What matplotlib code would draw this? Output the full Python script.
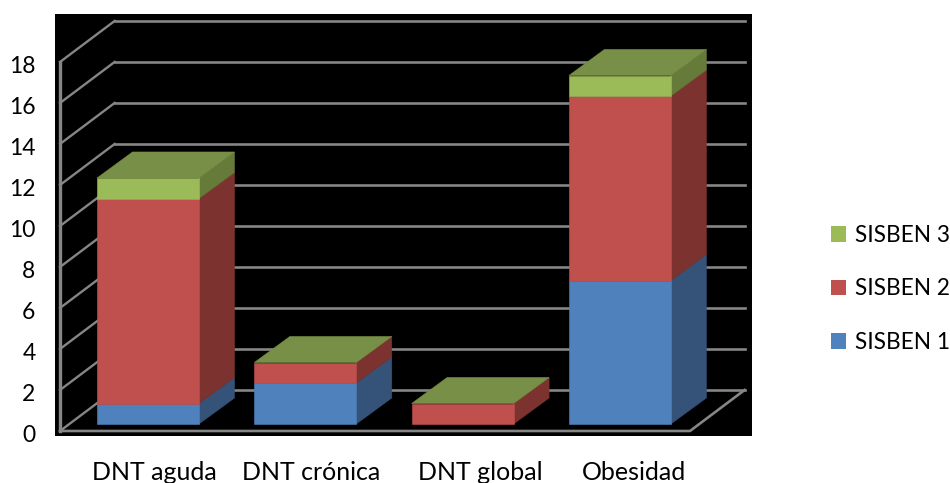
import matplotlib
matplotlib.use("Agg")
import matplotlib.pyplot as plt
from matplotlib.patches import Polygon, Patch
from matplotlib.transforms import ScaledTranslation

categories = ["DNT aguda", "DNT crónica", "DNT global", "Obesidad"]
sisben1 = [1, 2, 0, 7]
sisben2 = [10, 1, 1, 9]
sisben3 = [1, 0, 0, 1]
y_ticks = [0, 2, 4, 6, 8, 10, 12, 14, 16, 18]

names = ["SISBEN 1", "SISBEN 2", "SISBEN 3"]
front = ["#4F81BD", "#C0504D", "#9BBB59"]
side = ["#355279", "#7C3330", "#667A39"]
top = ["#4A6C96", "#964542", "#778F46"]
grid_col = "#868686"

bar_w = 0.648
bar_dx, bar_dy = 0.226, 1.27
wall_dx, wall_dy = 0.347, 2.0
floor_y = -0.34
left_x, right_x = -0.559, 3.446

plt.rcParams["font.family"] = ["Lato", "DejaVu Sans"]
fig = plt.figure(figsize=(9.5, 4.83), dpi=100)
ax = fig.add_axes([55 / 950, 1 - 435.5 / 483, 697 / 950, 421.5 / 483])
ax.set_facecolor("black")
ax.set_xlim(-0.591, 3.84)
ax.set_ylim(-0.56, 20)
for s in ax.spines.values():
    s.set_visible(False)

# back wall lines and the slanted lines on the left wall
for v in y_ticks:
    y = floor_y + v
    ax.plot([left_x, left_x + wall_dx], [y, y + wall_dy], color=grid_col, lw=1.7, zorder=1)
    ax.plot([left_x + wall_dx, right_x + wall_dx], [y + wall_dy, y + wall_dy], color=grid_col, lw=1.9, zorder=1)

# floor and vertical axis
ax.plot([left_x, right_x, right_x + wall_dx], [floor_y, floor_y, floor_y + wall_dy], color=grid_col, lw=1.9, zorder=1)
ax.plot([left_x, left_x], [floor_y, floor_y + 18], color=grid_col, lw=2.4, zorder=1)

# stacked boxes
z = 2
for i in range(len(categories)):
    x0 = i - bar_w / 2
    x1 = i + bar_w / 2
    base = 0
    series = [sisben1[i], sisben2[i], sisben3[i]]
    for val, f, sd in zip(series, front, side):
        if val > 0:
            ax.add_patch(Polygon([(x1, base), (x1 + bar_dx, base + bar_dy), (x1 + bar_dx, base + val + bar_dy), (x1, base + val)],
                                 facecolor=sd, edgecolor=sd, lw=0.4, zorder=z))
            ax.add_patch(Polygon([(x0, base), (x1, base), (x1, base + val), (x0, base + val)],
                                 facecolor=f, edgecolor=f, lw=0.4, zorder=z))
        base += val
    # the last series closes the box even when its height is zero
    ax.add_patch(Polygon([(x0, base), (x1, base), (x1 + bar_dx, base + bar_dy), (x0 + bar_dx, base + bar_dy)],
                         facecolor=top[2], edgecolor=top[2], lw=0.4, zorder=z))

ax.set_yticks([floor_y + v for v in y_ticks])
ax.set_yticklabels([str(v) for v in y_ticks], fontsize=16.5, color="black")
ax.set_xticks([0.04, 1.04, 2.11, 3.09])
ax.set_xticklabels(categories, fontsize=18, color="black")
ax.tick_params(axis="y", length=0, pad=14)
ax.tick_params(axis="x", length=0, pad=18)

# nudge the value labels down a little
nudge = ScaledTranslation(0, -1.8 / 72, fig.dpi_scale_trans)
for lab in ax.get_yticklabels():
    lab.set_transform(lab.get_transform() + nudge)

handles = [Patch(facecolor=front[j], label=names[j]) for j in [2, 1, 0]]
fig.legend(handles=handles, loc="center left", bbox_to_anchor=(831 / 950, 1 - 289 / 483), frameon=False,
           fontsize=16.3, handlelength=0.68, handleheight=0.68, handletextpad=0.36, labelspacing=1.44,
           borderpad=0, borderaxespad=0)

fig.savefig("out.png", dpi=100)
